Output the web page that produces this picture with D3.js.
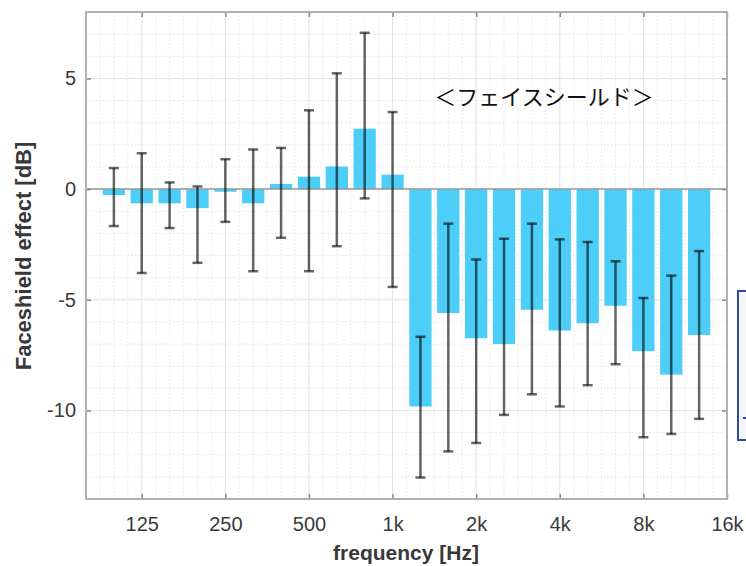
<!DOCTYPE html>
<html>
<head>
<meta charset="utf-8">
<script src="https://cdn.jsdelivr.net/npm/d3@7"></script>
<style>
  body { margin: 0; background: #fff; }
  svg { display: block; }
  .tick text { font-family: "Liberation Sans", Arial, sans-serif; }
</style>
</head>
<body>
<script>
// third-octave bands, values
let bands = ["100","125","160","200","250","315","400","500","630","800","1k",
             "1.25k","1.6k","2k","2.5k","3.15k","4k","5k","6.3k","8k","10k","12.5k"];
let means = [-0.27,-0.64,-0.64,-0.86,-0.12,-0.64,0.23,0.56,1.02,2.73,0.65,
             -9.82,-5.6,-6.74,-7.0,-5.45,-6.39,-6.06,-5.27,-7.32,-8.38,-6.59];
let errHi = [0.95,1.62,0.3,0.12,1.35,1.79,1.86,3.56,5.23,7.06,3.48,
             -6.67,-1.56,-3.18,-2.24,-1.56,-2.27,-2.39,-3.26,-4.92,-3.91,-2.8];
let errLo = [-1.67,-3.79,-1.76,-3.33,-1.48,-3.71,-2.2,-3.71,-2.58,-0.42,-4.42,
             -13.03,-11.85,-11.47,-10.2,-9.27,-9.82,-8.86,-7.91,-11.21,-11.06,-10.38];
let xTickPos = [2,5,8,11,14,17,20,23];
let xTickLabels = ["125","250","500","1k","2k","4k","8k","16k"];
let yTicks = [-10,-5,0,5];

let W = 746, H = 566;
let pLeft = 86, pRight = 727, pTop = 12, pBottom = 499;
let barColor = "#4dcef8";

let svg = d3.select('body').append('svg')
    .attr('width', W)
    .attr('height', H);

let x = d3.scaleLinear().domain([0, 23]).range([pLeft, pRight]);
let y = d3.scaleLinear().domain([-14, 8]).range([pBottom, pTop]);

let data = bands.map((b, i) => ({band: b, idx: i + 1, m: means[i], hi: errHi[i], lo: errLo[i]}));

// grid
let grid = svg.append('g');
grid.selectAll('.mx').data(d3.range(0.5, 23, 0.5))
    .join('line')
        .attr('x1', d => x(d)).attr('x2', d => x(d))
        .attr('y1', pTop).attr('y2', pBottom)
        .attr('stroke', '#e6e6e6')
        .attr('stroke-dasharray', '1.5,2');
grid.selectAll('.my').data(d3.range(-13, 8, 1))
    .join('line')
        .attr('x1', pLeft).attr('x2', pRight)
        .attr('y1', d => y(d)).attr('y2', d => y(d))
        .attr('stroke', '#e6e6e6')
        .attr('stroke-dasharray', '1.5,2');
grid.selectAll('.gx').data(xTickPos)
    .join('line')
        .attr('x1', d => x(d)).attr('x2', d => x(d))
        .attr('y1', pTop).attr('y2', pBottom)
        .attr('stroke', '#e4e4e4');
grid.selectAll('.gy').data(yTicks)
    .join('line')
        .attr('x1', pLeft).attr('x2', pRight)
        .attr('y1', d => y(d)).attr('y2', d => y(d))
        .attr('stroke', '#e4e4e4');

// bars
let bw = x(0.8) - x(0);
svg.append('g').selectAll('rect').data(data)
    .join('rect')
        .attr('x', d => x(d.idx) - bw / 2)
        .attr('width', bw)
        .attr('y', d => y(Math.max(0, d.m)))
        .attr('height', d => Math.abs(y(d.m) - y(0)))
        .attr('fill', barColor);

// baseline
svg.append('line')
    .attr('x1', pLeft).attr('x2', pRight)
    .attr('y1', y(0)).attr('y2', y(0))
    .attr('stroke', '#9a9a9a')
    .attr('stroke-width', 1.5);

// error bars
let eb = svg.append('g')
    .attr('stroke', '#000')
    .attr('stroke-opacity', 0.6)
    .attr('stroke-width', 2.5);
eb.selectAll('.v').data(data)
    .join('line')
        .attr('x1', d => x(d.idx)).attr('x2', d => x(d.idx))
        .attr('y1', d => y(d.hi)).attr('y2', d => y(d.lo));
let cap = 5;
eb.selectAll('.t').data(data)
    .join('line')
        .attr('x1', d => x(d.idx) - cap).attr('x2', d => x(d.idx) + cap)
        .attr('y1', d => y(d.hi)).attr('y2', d => y(d.hi));
eb.selectAll('.b').data(data)
    .join('line')
        .attr('x1', d => x(d.idx) - cap).attr('x2', d => x(d.idx) + cap)
        .attr('y1', d => y(d.lo)).attr('y2', d => y(d.lo));

// axes (ticks inward)
function styleAxis(g) {
    g.select('.domain').remove();
    g.selectAll('.tick line').attr('stroke', '#888').attr('stroke-width', 1.5);
    g.selectAll('.tick text').attr('fill', '#3a3a3a').attr('font-size', 20);
}
svg.append('g')
    .attr('transform', `translate(0,${pBottom})`)
    .call(d3.axisBottom(x).tickValues(xTickPos)
        .tickFormat((d, i) => xTickLabels[i]).tickSize(-5).tickPadding(18))
    .call(styleAxis);
svg.append('g')
    .attr('transform', `translate(0,${pTop})`)
    .call(d3.axisTop(x).tickValues(xTickPos).tickFormat('').tickSize(-5))
    .call(styleAxis);
svg.append('g')
    .attr('transform', `translate(${pLeft},0)`)
    .call(d3.axisLeft(y).tickValues(yTicks).tickFormat(d => String(d))
        .tickSize(-5).tickPadding(10))
    .call(styleAxis);
svg.append('g')
    .attr('transform', `translate(${pRight},0)`)
    .call(d3.axisRight(y).tickValues(yTicks).tickFormat('').tickSize(-5))
    .call(styleAxis);

// frame
svg.append('rect')
    .attr('x', pLeft).attr('y', pTop)
    .attr('width', pRight - pLeft).attr('height', pBottom - pTop)
    .attr('fill', 'none')
    .attr('stroke', '#b0b0b0')
    .attr('stroke-width', 2);

// labels
svg.append('text')
    .attr('x', 406).attr('y', 560)
    .attr('text-anchor', 'middle')
    .attr('font-family', '"Liberation Sans", Arial, sans-serif')
    .attr('font-weight', 'bold')
    .attr('font-size', 21)
    .attr('fill', '#383838')
    .text('frequency [Hz]');
svg.append('text')
    .attr('transform', 'translate(31,256) rotate(-90)')
    .attr('text-anchor', 'middle')
    .attr('font-family', '"Liberation Sans", Arial, sans-serif')
    .attr('font-weight', 'bold')
    .attr('font-size', 22)
    .attr('fill', '#383838')
    .text('Faceshield effect [dB]');

// annotation
svg.append('text')
    .attr('x', 544).attr('y', 105)
    .attr('text-anchor', 'middle')
    .attr('font-family', '"Noto Sans CJK JP", sans-serif')
    .attr('font-size', 22)
    .attr('fill', '#111')
    .text('＜フェイスシールド＞');

// cut-off box at right edge
svg.append('rect')
    .attr('x', 738).attr('y', 291)
    .attr('width', 20).attr('height', 149)
    .attr('fill', '#f5f7fc')
    .attr('stroke', '#2f4c98')
    .attr('stroke-width', 2);
svg.append('line')
    .attr('x1', 743).attr('x2', 747)
    .attr('y1', 418).attr('y2', 418)
    .attr('stroke', '#1f3fd0')
    .attr('stroke-width', 2);
</script>
</body>
</html>
